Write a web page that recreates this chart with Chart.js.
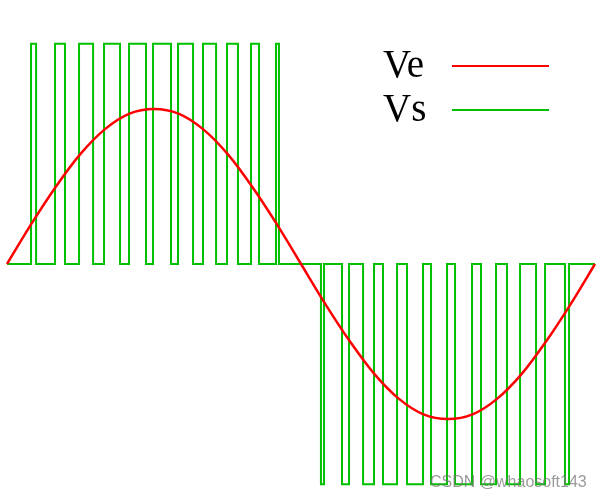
<!DOCTYPE html>
<html>
<head>
<meta charset="utf-8">
<script src="https://cdn.jsdelivr.net/npm/chart.js@4/dist/chart.umd.min.js"></script>
<style>
    body { margin: 0; background: #fff; }
    canvas { display: block; }
</style>
</head>
<body>
<canvas id="pwm-chart" width="604" height="497"></canvas>
<script>
// angle in degrees across one period
const veAngles = [0, 15, 30, 45, 60, 75, 90, 105, 120, 135, 150, 165, 180,
                  195, 210, 225, 240, 255, 270, 285, 300, 315, 330, 345, 360];
const veValues = [0, 0.26, 0.5, 0.71, 0.87, 0.97, 1, 0.97, 0.87, 0.71, 0.5, 0.26, 0,
                  -0.26, -0.5, -0.71, -0.87, -0.97, -1, -0.97, -0.87, -0.71, -0.5, -0.26, 0];

// PWM pulses (degrees)
const posPulseStart = [14.7, 29.4, 44.1, 59.4, 74.7, 89.4, 104.7, 120.0, 134.7, 149.4, 164.7];
const posPulseEnd   = [17.8, 35.5, 52.7, 69.2, 85.1, 100.4, 113.9, 128.0, 141.4, 154.3, 166.5];
const negPulseStart = [192.2, 205.1, 218.0, 230.2, 244.9, 259.6, 274.3, 290.2, 306.1, 323.9, 341.6];
const negPulseEnd   = [194.1, 209.4, 224.7, 238.8, 254.7, 269.4, 284.7, 299.4, 314.1, 329.4, 344.1];
const vsLevel = 1.42;

const vePoints = veAngles.map((a, i) => ({ x: a, y: veValues[i] }));

const vsPoints = [{ x: 0, y: 0 }];
posPulseStart.forEach((s, i) => {
    vsPoints.push({ x: s, y: vsLevel });
    vsPoints.push({ x: posPulseEnd[i], y: 0 });
});
negPulseStart.forEach((s, i) => {
    vsPoints.push({ x: s, y: -vsLevel });
    vsPoints.push({ x: negPulseEnd[i], y: 0 });
});
vsPoints.push({ x: 360, y: 0 });

// legend: label text followed by a short line
const sideLegend = {
    id: 'sideLegend',
    afterDraw(chart) {
        const ctx = chart.ctx;
        ctx.save();
        ctx.font = '39px "Liberation Serif", "Times New Roman", serif';
        ctx.textBaseline = 'alphabetic';
        ctx.textAlign = 'left';
        chart.data.datasets.forEach((ds, i) => {
            const base = 77 + i * 44;
            ctx.fillStyle = '#000';
            ctx.fillText(ds.label, 383, base);
            ctx.strokeStyle = ds.borderColor;
            ctx.lineWidth = 2;
            ctx.beginPath();
            ctx.moveTo(452, base - 11);
            ctx.lineTo(549, base - 11);
            ctx.stroke();
        });
        // watermark
        ctx.font = '16px "Liberation Sans", Arial, sans-serif';
        ctx.fillStyle = 'rgba(120,120,120,0.75)';
        ctx.fillText('CSDN @whaosoft143', 430, 487);
        ctx.restore();
    }
};

new Chart(document.getElementById('pwm-chart').getContext('2d'), {
    type: 'line',
    data: {
        datasets: [
            {
                label: 'Ve',
                data: vePoints,
                borderColor: '#ff0000',
                borderWidth: 2.5,
                pointRadius: 0,
                cubicInterpolationMode: 'monotone'
            },
            {
                label: 'Vs',
                data: vsPoints,
                borderColor: '#00c000',
                borderWidth: 2,
                pointRadius: 0,
                stepped: 'before'
            }
        ]
    },
    options: {
        responsive: false,
        animation: false,
        layout: { padding: 0 },
        plugins: { legend: { display: false }, tooltip: { enabled: false } },
        scales: {
            x: { type: 'linear', display: false, min: -4.29, max: 365.5 },
            y: { display: false, min: -1.503, max: 1.703 }
        }
    },
    plugins: [sideLegend]
});
</script>
</body>
</html>
